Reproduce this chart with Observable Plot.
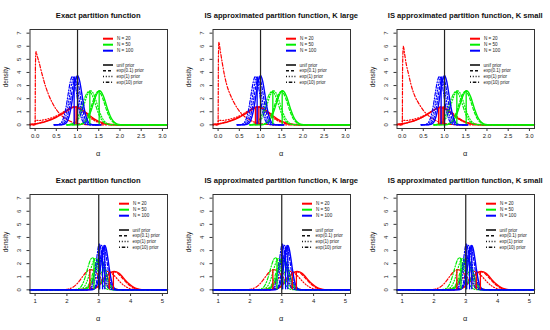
<!DOCTYPE html>
<html><head><meta charset="utf-8">
<script src="https://cdn.jsdelivr.net/npm/d3@7"></script>
<script src="https://cdn.jsdelivr.net/npm/@observablehq/plot@0.6"></script>
<style>
body{margin:0;background:#fff;}
#wrap{position:relative;width:550px;height:330px;}
#wrap svg{position:absolute;overflow:visible;}
</style></head><body><div id="wrap"></div>
<script>
// ---------- text ----------
const titles = ["Exact partition function", "IS approximated partition function, K large", "IS approximated partition function, K small"];
const sizeLabels = ["N = 20", "N = 50", "N = 100"];
const priorLabels = ["unif prior", "exp(0.1) prior", "exp(1) prior", "exp(10) prior"];
const topTicks = [0, 0.5, 1, 1.5, 2, 2.5, 3];
const botTicks = [1, 2, 3, 4, 5];
const yTicks = [0, 1, 2, 3, 4, 5, 6, 7];
const trueAlpha = [1, 3];

// ---------- top row (true alpha = 1), red N = 20 ----------
const topEx_R_unif = [[-0.12,0.03],[0,0.07],[0.1,0.13],[0.2,0.2],[0.3,0.3],[0.4,0.42],[0.5,0.57],[0.6,0.75],[0.7,0.95],[0.8,1.16],[0.88,1.31],[0.95,1.37],[1.02,1.33],[1.1,1.18],[1.2,0.93],[1.3,0.67],[1.4,0.44],[1.5,0.26],[1.6,0.14],[1.7,0.07],[1.8,0.03],[1.95,0.01],[2.1,0],[3.12,0]];
const topEx_R_e01 = [[-0.12,0.04],[0,0.08],[0.1,0.14],[0.2,0.22],[0.3,0.33],[0.4,0.46],[0.5,0.62],[0.6,0.8],[0.7,1.01],[0.8,1.21],[0.87,1.33],[0.93,1.38],[1.0,1.33],[1.08,1.18],[1.18,0.93],[1.28,0.66],[1.38,0.43],[1.48,0.25],[1.58,0.13],[1.7,0.05],[1.85,0.01],[2.0,0],[3.12,0]];
const topEx_R_e1 = [[-0.12,0],[-0.002,0],[0.005,0.35],[0.1,0.33],[0.2,0.38],[0.3,0.45],[0.4,0.55],[0.5,0.68],[0.6,0.85],[0.7,1.05],[0.8,1.25],[0.87,1.36],[0.92,1.38],[0.98,1.33],[1.06,1.17],[1.15,0.92],[1.25,0.64],[1.35,0.41],[1.45,0.23],[1.55,0.12],[1.67,0.05],[1.8,0.01],[2.0,0],[3.12,0]];
const topEx_R_e10 = [[-0.12,0],[0,0],[0.008,4.5],[0.02,5.6],[0.05,5.25],[0.1,4.7],[0.15,4.05],[0.2,3.45],[0.25,2.9],[0.3,2.45],[0.4,1.72],[0.5,1.17],[0.6,0.78],[0.7,0.5],[0.8,0.31],[0.9,0.18],[1.0,0.1],[1.1,0.05],[1.25,0.01],[1.4,0],[3.12,0]];
const topKL_R_e10 = [[-0.12,0],[0,0],[0.008,5.2],[0.02,6.3],[0.05,5.7],[0.1,4.7],[0.15,3.8],[0.2,3.1],[0.3,2.2],[0.4,1.55],[0.5,1.05],[0.6,0.7],[0.7,0.45],[0.8,0.28],[0.9,0.16],[1.0,0.09],[1.15,0.03],[1.3,0],[3.12,0]];
const topKS_R_e10 = [[-0.12,0],[0.005,0],[0.012,4.5],[0.03,6.0],[0.06,5.4],[0.1,4.6],[0.15,3.9],[0.2,3.2],[0.3,2.2],[0.4,1.6],[0.5,1.1],[0.6,0.76],[0.7,0.5],[0.8,0.31],[0.9,0.18],[1.0,0.1],[1.15,0.03],[1.3,0],[3.12,0]];
const topKS_R_unif = [[-0.12,0.03],[0,0.08],[0.1,0.14],[0.2,0.22],[0.3,0.33],[0.4,0.46],[0.5,0.62],[0.6,0.82],[0.7,1.03],[0.8,1.22],[0.89,1.31],[0.96,1.28],[1.05,1.14],[1.15,0.9],[1.25,0.65],[1.35,0.43],[1.45,0.26],[1.55,0.14],[1.65,0.07],[1.75,0.03],[1.9,0.01],[2.05,0],[3.12,0]];

// ---------- top row, green N = 50 ----------
const top_G_unif = [[0.75,0],[1.02,0.01],[1.12,0.08],[1.17,0.19],[1.22,0.38],[1.27,0.68],[1.32,1.09],[1.37,1.6],[1.42,2.1],[1.47,2.46],[1.52,2.6],[1.57,2.46],[1.62,2.1],[1.67,1.6],[1.72,1.09],[1.77,0.68],[1.82,0.38],[1.87,0.19],[1.92,0.08],[2.02,0.01],[2.2,0],[3.12,0]];
const top_G_e01 = [[0.75,0],[0.99,0.01],[1.09,0.08],[1.14,0.19],[1.19,0.37],[1.24,0.67],[1.29,1.07],[1.34,1.57],[1.39,2.06],[1.44,2.41],[1.49,2.55],[1.54,2.41],[1.59,2.06],[1.64,1.57],[1.69,1.07],[1.74,0.67],[1.79,0.37],[1.84,0.19],[1.89,0.08],[1.99,0.01],[2.2,0],[3.12,0]];
const top_G_e1 = [[0.75,0],[0.81,0.01],[0.91,0.085],[0.96,0.19],[1.01,0.38],[1.06,0.68],[1.11,1.09],[1.16,1.6],[1.21,2.1],[1.26,2.46],[1.31,2.6],[1.36,2.46],[1.41,2.1],[1.46,1.6],[1.51,1.09],[1.56,0.68],[1.61,0.38],[1.66,0.19],[1.71,0.085],[1.81,0.01],[2.0,0],[3.12,0]];
const top_G_e10 = [[0.75,0],[0.77,0.01],[0.87,0.08],[0.92,0.19],[0.97,0.37],[1.02,0.67],[1.07,1.07],[1.12,1.57],[1.17,2.06],[1.22,2.41],[1.27,2.55],[1.32,2.41],[1.37,2.06],[1.42,1.57],[1.47,1.07],[1.52,0.67],[1.57,0.37],[1.62,0.19],[1.67,0.08],[1.77,0.01],[2.0,0],[3.12,0]];

// ---------- top row, blue N = 100 ----------
const top_B_unif = [[0.45,0],[0.6,0],[0.65,0.015],[0.7,0.07],[0.75,0.23],[0.8,0.64],[0.85,1.38],[0.9,2.4],[0.95,3.34],[1.0,3.75],[1.05,3.34],[1.1,2.4],[1.15,1.38],[1.2,0.64],[1.25,0.23],[1.3,0.07],[1.35,0.015],[1.45,0],[1.55,0]];
const top_B_e01 = [[0.45,0],[0.61,0.015],[0.66,0.07],[0.71,0.23],[0.76,0.63],[0.81,1.36],[0.86,2.37],[0.91,3.3],[0.96,3.7],[1.01,3.3],[1.06,2.37],[1.11,1.36],[1.16,0.63],[1.21,0.23],[1.26,0.07],[1.31,0.015],[1.45,0],[1.55,0]];
const top_B_e1 = [[0.45,0],[0.57,0.015],[0.62,0.07],[0.67,0.22],[0.72,0.62],[0.77,1.34],[0.82,2.34],[0.87,3.25],[0.92,3.65],[0.97,3.25],[1.02,2.34],[1.07,1.34],[1.12,0.62],[1.17,0.22],[1.22,0.07],[1.27,0.015],[1.4,0],[1.55,0]];
const top_B_e10 = [[0.45,0],[0.53,0.015],[0.58,0.07],[0.63,0.23],[0.68,0.63],[0.73,1.36],[0.78,2.37],[0.83,3.3],[0.88,3.7],[0.93,3.3],[0.98,2.37],[1.03,1.36],[1.08,0.63],[1.13,0.23],[1.18,0.07],[1.23,0.015],[1.35,0],[1.55,0]];

// ---------- top row vertical markers [alpha, density] ----------
const topEx_R_mark = [[0.93,1.36],[0.97,1.37]];
const topKL_R_mark = [[0.88,1.3],[0.92,1.35],[0.96,1.37]];
const topKS_R_mark = [[0.86,1.25],[0.9,1.3],[0.94,1.3],[0.97,1.28]];
const top_G_mark = [[1.29,2.6],[1.51,2.6]];
const top_B_mark = [[0.92,3.62],[1.0,3.75]];

// ---------- bottom row (true alpha = 3) ----------
const bot_R_unif = [[0.84,0],[2.5,0],[2.7,0.03],[2.8,0.07],[2.9,0.14],[3.0,0.3],[3.1,0.6],[3.2,0.93],[3.3,1.17],[3.4,1.34],[3.48,1.4],[3.56,1.37],[3.65,1.24],[3.75,0.98],[3.85,0.7],[3.95,0.46],[4.05,0.27],[4.15,0.13],[4.25,0.05],[4.35,0.015],[4.5,0],[5.16,0]];
const bot_R_e01 = [[0.84,0],[2.5,0],[2.66,0.03],[2.76,0.07],[2.86,0.15],[2.96,0.31],[3.06,0.61],[3.16,0.94],[3.26,1.18],[3.36,1.34],[3.44,1.39],[3.52,1.36],[3.61,1.23],[3.71,0.97],[3.81,0.7],[3.91,0.46],[4.01,0.27],[4.11,0.13],[4.21,0.05],[4.31,0.015],[4.5,0],[5.16,0]];
const bot_R_e1 = [[0.84,0],[2.2,0],[2.4,0.03],[2.5,0.07],[2.6,0.15],[2.7,0.3],[2.8,0.55],[2.9,0.85],[3.0,1.12],[3.1,1.32],[3.2,1.41],[3.28,1.4],[3.38,1.3],[3.48,1.1],[3.58,0.84],[3.68,0.58],[3.78,0.36],[3.88,0.2],[3.98,0.1],[4.1,0.04],[4.25,0.01],[4.4,0],[5.16,0]];
const bot_R_e10 = [[0.84,0],[1.8,0],[2.0,0.04],[2.1,0.1],[2.2,0.22],[2.3,0.42],[2.4,0.7],[2.5,1.03],[2.6,1.33],[2.7,1.53],[2.75,1.55],[2.82,1.5],[2.9,1.36],[3.0,1.1],[3.1,0.8],[3.2,0.52],[3.3,0.3],[3.4,0.15],[3.5,0.07],[3.65,0.02],[3.8,0],[5.16,0]];
const bot_G_unif = [[0.84,0],[2.3,0],[2.45,0.005],[2.55,0.03],[2.65,0.13],[2.7,0.26],[2.75,0.47],[2.8,0.77],[2.85,1.16],[2.9,1.59],[2.95,1.99],[3.0,2.29],[3.05,2.4],[3.1,2.29],[3.15,1.99],[3.2,1.59],[3.25,1.16],[3.3,0.77],[3.35,0.47],[3.4,0.26],[3.45,0.13],[3.55,0.03],[3.65,0.005],[3.8,0],[5.16,0]];
const bot_G_e01 = [[0.84,0],[2.25,0],[2.4,0.005],[2.5,0.03],[2.6,0.13],[2.65,0.26],[2.7,0.47],[2.75,0.76],[2.8,1.15],[2.85,1.58],[2.9,1.97],[2.95,2.27],[3.0,2.38],[3.05,2.27],[3.1,1.97],[3.15,1.58],[3.2,1.15],[3.25,0.76],[3.3,0.47],[3.35,0.26],[3.4,0.13],[3.5,0.03],[3.6,0.005],[3.75,0],[5.16,0]];
const bot_G_e1 = [[0.84,0],[2.15,0],[2.3,0.005],[2.4,0.03],[2.5,0.13],[2.55,0.26],[2.6,0.47],[2.65,0.77],[2.7,1.16],[2.75,1.59],[2.8,1.99],[2.85,2.29],[2.9,2.4],[2.95,2.29],[3.0,1.99],[3.05,1.59],[3.1,1.16],[3.15,0.77],[3.2,0.47],[3.25,0.26],[3.3,0.13],[3.4,0.03],[3.5,0.005],[3.65,0],[5.16,0]];
const bot_G_e10 = [[0.84,0],[2.05,0],[2.2,0.005],[2.3,0.03],[2.4,0.13],[2.45,0.27],[2.5,0.48],[2.55,0.79],[2.6,1.18],[2.65,1.62],[2.7,2.03],[2.75,2.34],[2.8,2.45],[2.85,2.34],[2.9,2.03],[2.95,1.62],[3.0,1.18],[3.05,0.79],[3.1,0.48],[3.15,0.27],[3.2,0.13],[3.3,0.03],[3.4,0.005],[3.55,0],[5.16,0]];
const bot_B_unif = [[0.84,0],[2.7,0],[2.79,0.01],[2.84,0.04],[2.89,0.13],[2.94,0.35],[2.99,0.79],[3.04,1.48],[3.09,2.34],[3.14,3.07],[3.19,3.38],[3.24,3.07],[3.29,2.34],[3.34,1.48],[3.39,0.79],[3.44,0.35],[3.49,0.13],[3.54,0.04],[3.59,0.01],[3.7,0],[5.16,0]];
const bot_B_e01 = [[0.84,0],[2.65,0],[2.75,0.01],[2.8,0.04],[2.85,0.13],[2.9,0.35],[2.95,0.78],[3.0,1.46],[3.05,2.32],[3.1,3.04],[3.15,3.35],[3.2,3.04],[3.25,2.32],[3.3,1.46],[3.35,0.78],[3.4,0.35],[3.45,0.13],[3.5,0.04],[3.55,0.01],[3.65,0],[5.16,0]];
const bot_B_e1 = [[0.84,0],[2.58,0],[2.68,0.01],[2.73,0.04],[2.78,0.13],[2.83,0.35],[2.88,0.79],[2.93,1.49],[2.98,2.35],[3.03,3.09],[3.08,3.4],[3.13,3.09],[3.18,2.35],[3.23,1.49],[3.28,0.79],[3.33,0.35],[3.38,0.13],[3.43,0.04],[3.48,0.01],[3.58,0],[5.16,0]];
const bot_B_e10 = [[0.84,0],[2.55,0],[2.64,0.01],[2.69,0.05],[2.74,0.15],[2.79,0.4],[2.84,0.88],[2.89,1.6],[2.94,2.48],[2.98,3.2],[3.02,3.5],[3.06,3.2],[3.11,2.48],[3.16,1.6],[3.21,0.88],[3.26,0.4],[3.31,0.15],[3.36,0.05],[3.41,0.01],[3.5,0],[5.16,0]];
const bot_R_mark = [[2.72,1.55],[3.33,1.3],[3.46,1.38]];
const bot_G_mark = [[2.85,2.3],[3.02,2.3]];
const bot_B_mark = [[3.03,3.45],[3.12,3.2],[3.19,3.35]];

// ---------- assemble panels ----------
const topG = {unif: top_G_unif, e01: top_G_e01, e1: top_G_e1, e10: top_G_e10};
const topB = {unif: top_B_unif, e01: top_B_e01, e1: top_B_e1, e10: top_B_e10};
const botCurves = {
  R: {unif: bot_R_unif, e01: bot_R_e01, e1: bot_R_e1, e10: bot_R_e10},
  G: {unif: bot_G_unif, e01: bot_G_e01, e1: bot_G_e1, e10: bot_G_e10},
  B: {unif: bot_B_unif, e01: bot_B_e01, e1: bot_B_e1, e10: bot_B_e10}
};
const botMarks = {R: bot_R_mark, G: bot_G_mark, B: bot_B_mark};
const panels = [
  {row: 0, col: 0, curves: {R: {unif: topEx_R_unif, e01: topEx_R_e01, e1: topEx_R_e1, e10: topEx_R_e10}, G: topG, B: topB}, marks: {R: topEx_R_mark, G: top_G_mark, B: top_B_mark}},
  {row: 0, col: 1, curves: {R: {unif: topEx_R_unif, e01: topEx_R_e01, e1: topEx_R_e1, e10: topKL_R_e10}, G: topG, B: topB}, marks: {R: topKL_R_mark, G: top_G_mark, B: top_B_mark}},
  {row: 0, col: 2, curves: {R: {unif: topKS_R_unif, e01: topEx_R_e01, e1: topEx_R_e1, e10: topKS_R_e10}, G: topG, B: topB}, marks: {R: topKS_R_mark, G: top_G_mark, B: top_B_mark}},
  {row: 1, col: 0, curves: botCurves, marks: botMarks},
  {row: 1, col: 1, curves: botCurves, marks: botMarks},
  {row: 1, col: 2, curves: botCurves, marks: botMarks}
];

// ---------- styles ----------
const FONT = '"Liberation Sans", Arial, Helvetica, sans-serif';
const COLORS = {R: "#ff0000", G: "#00ee00", B: "#0000ff"};
const DASH = {unif: undefined, e01: "3,2", e1: "1,1.8", e10: "1,1.8,3.5,1.8"};
const PRIORS = ["unif", "e01", "e1", "e10"];
const DRAW_ORDER = ["e10", "e1", "e01", "unif"];
const PW = 550 / 3, PH = 165;
const ML = 29.5, MR = 16, MT = 29, MB = 37;

const wrap = document.getElementById("wrap");
for (const p of panels) {
  const top = p.row === 0;
  const marks = [];
  for (const c of ["R", "G", "B"]) for (const pr of DRAW_ORDER) {
    marks.push(Plot.line(p.curves[c][pr], {x: d => d[0], y: d => d[1], stroke: COLORS[c], strokeWidth: pr === "unif" ? 1.4 : 1.2, strokeDasharray: DASH[pr], curve: "monotone-x"}));
  }
  for (const c of ["R", "G", "B"]) {
    marks.push(Plot.ruleX(p.marks[c], {x: d => d[0], y1: () => 0, y2: d => d[1], stroke: COLORS[c], strokeWidth: 1.3}));
  }
  marks.push(Plot.ruleX([trueAlpha[p.row]], {stroke: "#222", strokeWidth: 1.2}));
  marks.push(Plot.axisX({ticks: top ? topTicks : botTicks, tickFormat: top ? (d => d.toFixed(1)) : (d => String(d)), tickSize: 3, tickPadding: 2.5, fontSize: 6, label: null, stroke: "#333", fill: "#222"}));
  marks.push(Plot.axisY({ticks: yTicks, tickSize: 3, tickRotate: -90, tickPadding: 6.5, fontSize: 6, label: null, stroke: "#333", fill: "#222"}));
  marks.push(Plot.frame({stroke: "#333", strokeWidth: 1}));
  const svg = Plot.plot({
    width: Math.round(PW), height: PH,
    marginLeft: ML, marginRight: MR, marginTop: MT, marginBottom: MB,
    x: {domain: top ? [-0.12, 3.12] : [0.84, 5.16]},
    y: {domain: [-0.28, 7.28]},
    style: {fontFamily: FONT, background: "transparent", overflow: "visible"},
    marks
  });
  svg.style.left = (p.col * PW) + "px";
  svg.style.top = (p.row * PH) + "px";
  const s = d3.select(svg);
  const cx = (ML + Math.round(PW) - MR) / 2;
  s.append("text").attr("x", cx).attr("y", 17.7).attr("text-anchor", "middle")
    .attr("font-family", FONT).attr("font-weight", "bold").attr("font-size", 7.6).attr("fill", "#111").text(titles[p.col]);
  s.append("text").attr("x", cx).attr("y", 155.5).attr("text-anchor", "middle")
    .attr("font-family", FONT).attr("font-size", 7.5).attr("fill", "#222").text("α");
  s.append("text").attr("transform", "translate(7.6,77) rotate(-90)").attr("text-anchor", "middle")
    .attr("font-family", FONT).attr("font-size", 6.5).attr("fill", "#222").text("density");
  // legends
  const lx = top ? 103 : 119;
  const g = s.append("g").attr("font-family", FONT).attr("font-size", 4.6).attr("fill", "#222").attr("text-anchor", "start");
  const rows1 = [38.7, 44.7, 50.7];
  ["R", "G", "B"].forEach((c, i) => {
    g.append("line").attr("x1", lx).attr("x2", lx + 10).attr("y1", rows1[i]).attr("y2", rows1[i]).attr("stroke", COLORS[c]).attr("stroke-width", 2);
    g.append("text").attr("x", lx + 14).attr("y", rows1[i] + 1.6).attr("text-anchor", "start").text(sizeLabels[i]);
  });
  const rows2 = [65, 70.7, 76.5, 82.3];
  PRIORS.forEach((pr, i) => {
    g.append("line").attr("x1", lx).attr("x2", lx + 10).attr("y1", rows2[i]).attr("y2", rows2[i]).attr("stroke", "#111").attr("stroke-width", 1.6).attr("stroke-dasharray", DASH[pr] || null);
    g.append("text").attr("x", lx + 13.5).attr("y", rows2[i] + 1.6).attr("text-anchor", "start").text(priorLabels[i]);
  });
  wrap.appendChild(svg);
}
</script></body></html>
